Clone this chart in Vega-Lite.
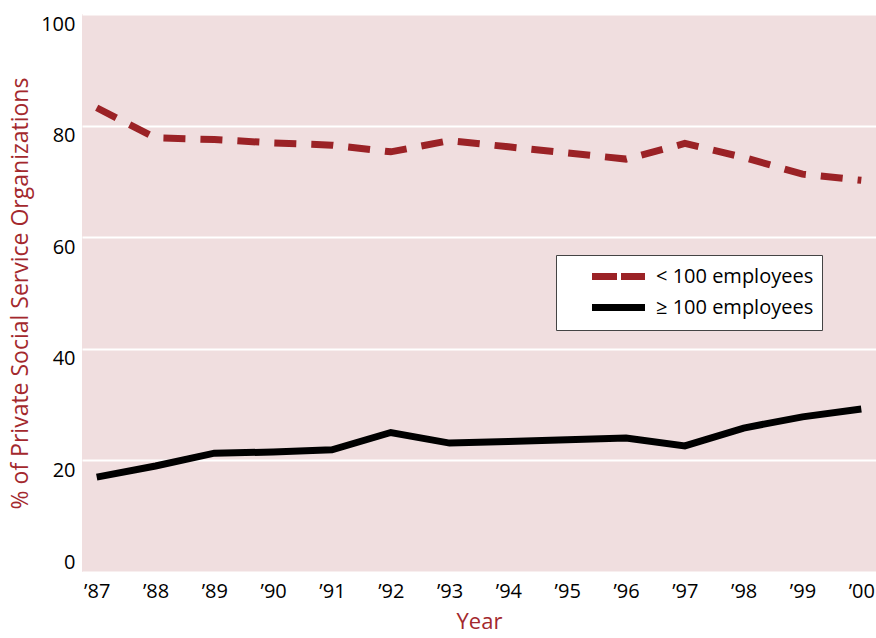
{
  "$schema": "https://vega.github.io/schema/vega-lite/v6.json",
  "width": 794,
  "height": 558,
  "autosize": "none",
  "padding": {"left": 82, "top": 14, "right": 0, "bottom": 66},
  "background": "white",
  "config": {"view": {"fill": "#f0dedf", "stroke": null}, "font": "Open Sans"},
  "data": {
    "values": [
      {"year": "’87", "size": "< 100 employees", "pct": 83.2},
      {"year": "’88", "size": "< 100 employees", "pct": 77.8},
      {"year": "’89", "size": "< 100 employees", "pct": 77.5},
      {"year": "’90", "size": "< 100 employees", "pct": 76.9},
      {"year": "’91", "size": "< 100 employees", "pct": 76.5},
      {"year": "’92", "size": "< 100 employees", "pct": 75.3},
      {"year": "’93", "size": "< 100 employees", "pct": 77.3},
      {"year": "’94", "size": "< 100 employees", "pct": 76.2},
      {"year": "’95", "size": "< 100 employees", "pct": 75.1},
      {"year": "’96", "size": "< 100 employees", "pct": 74.0},
      {"year": "’97", "size": "< 100 employees", "pct": 76.8},
      {"year": "’98", "size": "< 100 employees", "pct": 74.3},
      {"year": "’99", "size": "< 100 employees", "pct": 71.3},
      {"year": "’00", "size": "< 100 employees", "pct": 70.2},
      {"year": "’87", "size": "≥ 100 employees", "pct": 17.0},
      {"year": "’88", "size": "≥ 100 employees", "pct": 19.0},
      {"year": "’89", "size": "≥ 100 employees", "pct": 21.3},
      {"year": "’90", "size": "≥ 100 employees", "pct": 21.5},
      {"year": "’91", "size": "≥ 100 employees", "pct": 21.9},
      {"year": "’92", "size": "≥ 100 employees", "pct": 25.0},
      {"year": "’93", "size": "≥ 100 employees", "pct": 23.1},
      {"year": "’94", "size": "≥ 100 employees", "pct": 23.4},
      {"year": "’95", "size": "≥ 100 employees", "pct": 23.7},
      {"year": "’96", "size": "≥ 100 employees", "pct": 24.0},
      {"year": "’97", "size": "≥ 100 employees", "pct": 22.6},
      {"year": "’98", "size": "≥ 100 employees", "pct": 25.8},
      {"year": "’99", "size": "≥ 100 employees", "pct": 27.8},
      {"year": "’00", "size": "≥ 100 employees", "pct": 29.2}
    ]
  },
  "encoding": {
    "x": {
      "field": "year", "type": "ordinal", "sort": null,
      "scale": {"type": "point", "padding": 0.25},
      "axis": {
        "title": "Year", "titleColor": "#a3282d", "titleFontSize": 22, "titleFontWeight": "normal",
        "titlePadding": 10, "labelAngle": 0, "labelFontSize": 20, "labelColor": "black",
        "labelPadding": 9, "labelBaseline": "top", "ticks": false, "domain": false, "grid": false
      }
    },
    "y": {
      "field": "pct", "type": "quantitative",
      "scale": {"domain": [0, 100], "nice": false},
      "axis": {
        "title": "% of Private Social Service Organizations", "titleColor": "#a3282d",
        "titleFontSize": 23, "titleFontWeight": "normal", "titlePadding": 8,
        "values": [0, 20, 40, 60, 80, 100], "labelFontSize": 20, "labelColor": "black",
        "labelPadding": 7, "labelBaseline": {"condition": {"test": "datum.value == 0", "value": "bottom"}, "value": "top"},
        "ticks": false, "domain": false, "grid": true, "gridColor": "white", "gridWidth": 2, "gridOpacity": 1
      }
    },
    "color": {
      "field": "size", "type": "nominal",
      "scale": {"domain": ["< 100 employees", "≥ 100 employees"], "range": ["#9b2226", "#000000"]},
      "legend": {
        "title": null, "orient": "none", "legendX": 474, "legendY": 241,
        "fillColor": "white", "strokeColor": "#444444", "padding": 8,
        "symbolType": "M-2.65,0H2.65", "symbolSize": 400, "symbolStrokeWidth": 7,
        "labelFontSize": 20, "labelColor": "black", "labelOffset": 24, "rowPadding": 2, "symbolOffset": 41,
        "encode": {"symbols": {"update": {"strokeDash": {"signal": "datum.value === '< 100 employees' ? [25, 4] : [1, 0]"}}}}
      }
    }
  },
  "layer": [
    {
      "transform": [{"filter": "datum.size === '< 100 employees'"}],
      "mark": {"type": "line", "strokeWidth": 7, "strokeCap": "butt", "strokeJoin": "miter", "strokeDash": [22, 15]}
    },
    {
      "transform": [{"filter": "datum.size === '≥ 100 employees'"}],
      "mark": {"type": "line", "strokeWidth": 7, "strokeCap": "butt", "strokeJoin": "miter"}
    }
  ]
}
